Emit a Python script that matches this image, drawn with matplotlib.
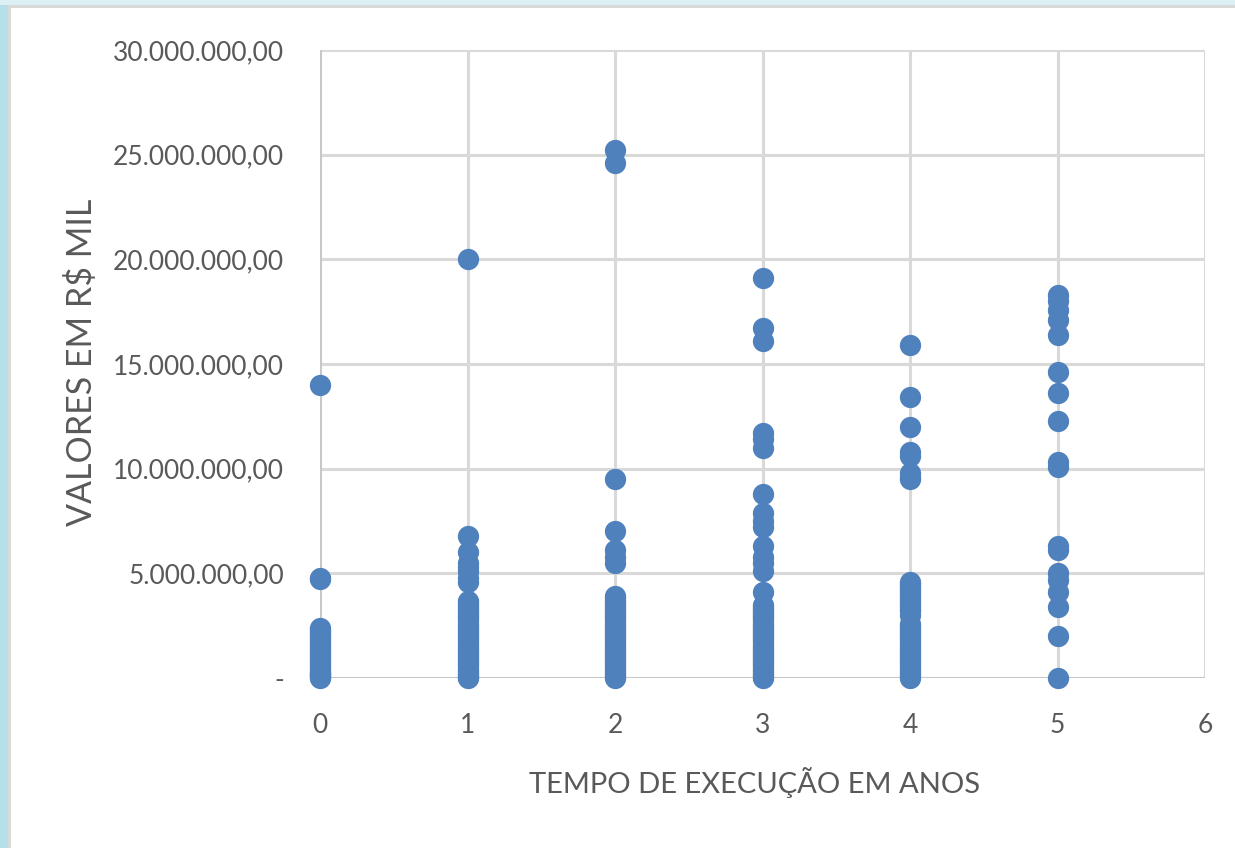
import matplotlib
matplotlib.use("Agg")
import matplotlib.pyplot as plt
from matplotlib.patches import Rectangle
from matplotlib.ticker import FuncFormatter, MultipleLocator

# Data: execution time (years) and values (in millions, scaled to R$ below)
anos_0 = [14.0, 4.8, 4.75, 2.4, 2.3, 2.2, 2.1, 2.0, 1.9, 1.8, 1.7, 1.6, 1.5, 1.4,
          1.3, 1.2, 1.1, 1.0, 0.9, 0.8, 0.7, 0.6, 0.5, 0.4, 0.3, 0.25, 0.2, 0.15,
          0.1, 0.05, 0.0]
anos_1 = [20.0, 6.8, 6.0, 5.5, 5.3, 5.1, 4.8, 4.6, 3.7, 3.6, 3.5, 3.4, 3.3, 3.2,
          3.1, 3.0, 2.9, 2.8, 2.7, 2.6, 2.5, 2.4, 2.3, 2.2, 2.1, 2.0, 1.9, 1.8,
          1.7, 1.6, 1.5, 1.4, 1.3, 1.2, 1.1, 1.0, 0.9, 0.8, 0.7, 0.6, 0.5, 0.4,
          0.3, 0.2, 0.1, 0.05, 0.0]
anos_2 = [25.2, 24.6, 9.5, 7.0, 6.1, 5.8, 5.5, 3.9, 3.8, 3.7, 3.6, 3.5, 3.4, 3.3,
          3.2, 3.1, 3.0, 2.9, 2.8, 2.7, 2.6, 2.5, 2.4, 2.3, 2.2, 2.1, 2.0, 1.9,
          1.8, 1.7, 1.6, 1.5, 1.4, 1.3, 1.2, 1.1, 1.0, 0.9, 0.8, 0.7, 0.6, 0.5,
          0.4, 0.3, 0.2, 0.1, 0.0]
anos_3 = [19.1, 16.7, 16.1, 11.7, 11.4, 11.0, 8.8, 7.9, 7.5, 7.2, 6.3, 5.8, 5.5,
          5.1, 4.1, 3.5, 3.4, 3.3, 3.2, 3.1, 3.0, 2.9, 2.8, 2.7, 2.6, 2.5, 2.4,
          2.3, 2.2, 2.1, 2.0, 1.9, 1.8, 1.7, 1.6, 1.5, 1.4, 1.3, 1.2, 1.1, 1.0,
          0.9, 0.8, 0.7, 0.6, 0.5, 0.4, 0.3, 0.2, 0.1, 0.0]
anos_4 = [15.9, 13.4, 12.0, 10.8, 10.6, 9.8, 9.6, 9.5, 4.6, 4.5, 4.4, 4.3, 4.2,
          4.1, 4.0, 3.9, 3.8, 3.7, 3.6, 3.5, 3.4, 3.3, 3.2, 3.0, 2.6, 2.5, 2.4,
          2.3, 2.2, 2.1, 2.0, 1.9, 1.8, 1.7, 1.6, 1.5, 1.4, 1.3, 1.2, 1.1, 1.0,
          0.9, 0.8, 0.7, 0.6, 0.5, 0.4, 0.3, 0.2, 0.1, 0.0]
anos_5 = [18.3, 18.0, 17.6, 17.1, 16.4, 14.6, 13.6, 12.3, 10.3, 10.1, 6.3, 6.1,
          5.0, 4.7, 4.1, 3.4, 2.0, 0.0]
series = [anos_0, anos_1, anos_2, anos_3, anos_4, anos_5]
x_title = "TEMPO DE EXECUÇÃO EM ANOS"
y_title = "VALORES EM R$ MIL"

xs, ys = [], []
for t, vals in enumerate(series):
    for v in vals:
        xs.append(t)
        ys.append(v * 1e6)

W, H = 1235, 848
fig = plt.figure(figsize=(W / 100, H / 100), dpi=100)
fig.patch.set_facecolor("white")

# frame decoration (light blue strips + gray border)
fig.patches.append(Rectangle((0, 0), 8 / W, 1, transform=fig.transFigure,
                             facecolor="#b5dfe9", edgecolor="none", zorder=0))
fig.patches.append(Rectangle((0, 1 - 5 / H), 1, 5 / H, transform=fig.transFigure,
                             facecolor="#ddf0f4", edgecolor="none", zorder=0))
fig.patches.append(Rectangle((8 / W, 0), 3 / W, 1 - 5 / H, transform=fig.transFigure,
                             facecolor="#d9d9d9", edgecolor="none", zorder=0))
fig.patches.append(Rectangle((8 / W, 1 - 8 / H), 1, 3 / H, transform=fig.transFigure,
                             facecolor="#d9d9d9", edgecolor="none", zorder=0))

ax = fig.add_axes([320 / W, 1 - 678 / H, 885 / W, 628 / H])
ax.set_xlim(0, 6)
ax.set_ylim(0, 30e6)
ax.xaxis.set_major_locator(MultipleLocator(1))
ax.yaxis.set_major_locator(MultipleLocator(5e6))

def fmt_y(v, pos):
    if abs(v) < 1:
        return "-"
    s = f"{int(round(v)):,}".replace(",", ".")
    return s + ",00"

ax.yaxis.set_major_formatter(FuncFormatter(fmt_y))
ax.grid(True, color="#d9d9d9", linewidth=2.2, zorder=0)
ax.set_axisbelow(True)
for sp in ax.spines.values():
    sp.set_visible(False)
ax.axhline(0, color="#c8c8c8", linewidth=2.2, zorder=1)
ax.axvline(0, color="#c8c8c8", linewidth=2.2, zorder=1)

ax.scatter(xs, ys, s=235, color="#4f81bd", linewidths=0, zorder=3, clip_on=False)

ax.tick_params(axis="both", length=0, labelsize=19, labelcolor="#595959")
ax.tick_params(axis="x", pad=25)
ax.tick_params(axis="y", pad=26)
for lab in ax.get_xticklabels() + ax.get_yticklabels():
    lab.set_fontfamily("Lato")

ax.set_xlabel(x_title, fontsize=21, color="#595959", fontfamily="Lato")
ax.set_ylabel(y_title, fontsize=24.5, color="#595959", fontfamily="Lato")
ax.xaxis.label.set_va("center")
ax.yaxis.label.set_va("center")
ax.xaxis.set_label_coords((755 - 320) / 885, (678 - 782) / 628)
ax.yaxis.set_label_coords((82 - 320) / 885, (678 - 362) / 628)

fig.savefig("out.png", dpi=100, facecolor="white")
